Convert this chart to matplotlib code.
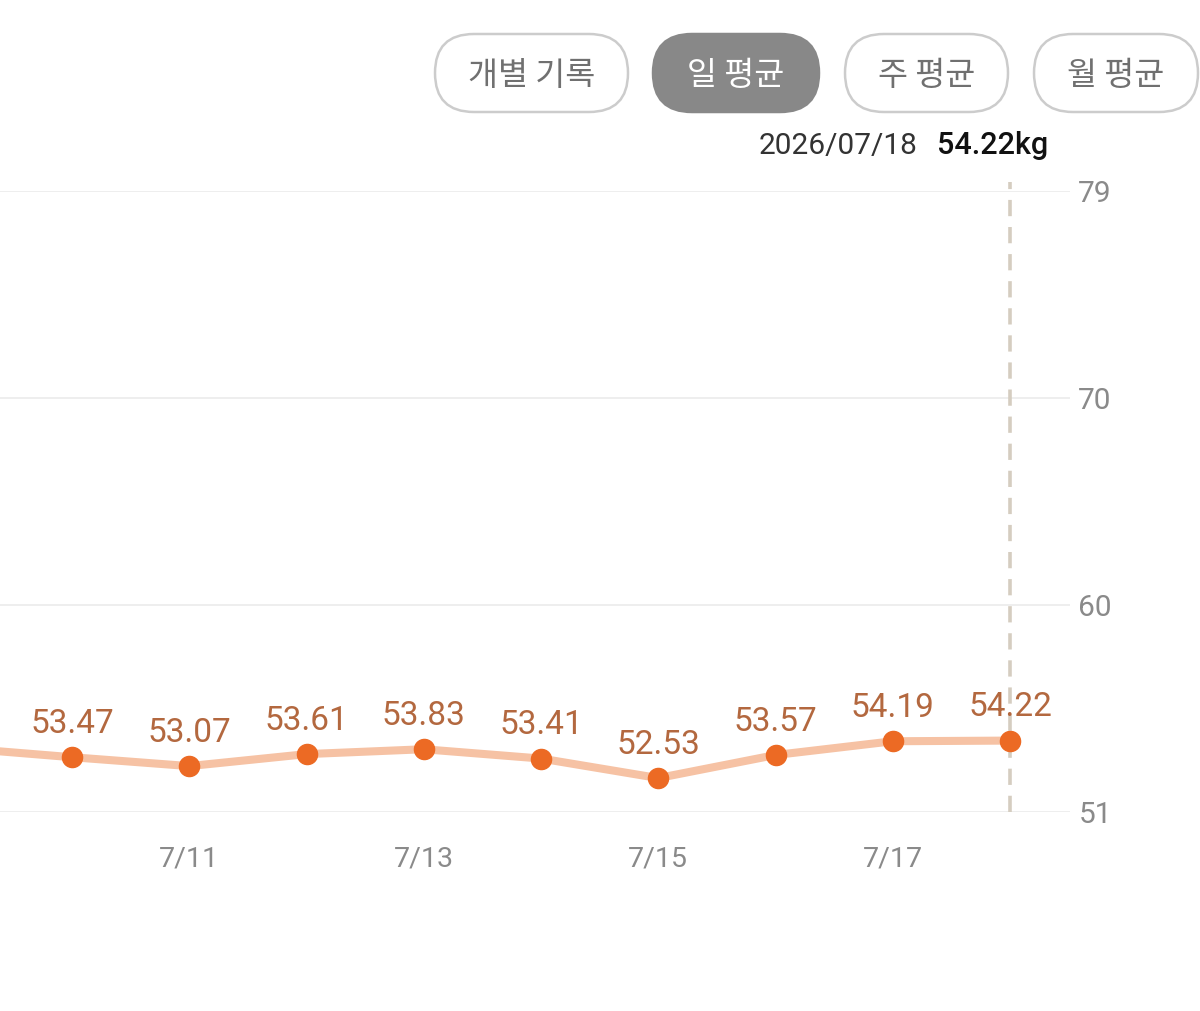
import matplotlib
matplotlib.use("Agg")
import matplotlib.pyplot as plt
from matplotlib.patches import FancyBboxPatch
import numpy as np

plt.rcParams['font.family'] = ['Roboto', 'Noto Sans CJK KR', 'DejaVu Sans']

# ---- data ----
days = [9, 10, 11, 12, 13, 14, 15, 16, 17, 18]
weights = [53.90, 53.47, 53.07, 53.61, 53.83, 53.41, 52.53, 53.57, 54.19, 54.22]
xtick_days = [11, 13, 15, 17]
xtick_labels = ['7/11', '7/13', '7/15', '7/17']
y_min, y_max = 51, 79
ytick_labels = ['51', '60', '70', '79']
buttons = ['개별 기록', '일 평균', '주 평균', '월 평균']
selected_button = '일 평균'
header_date = '2026/07/18'
header_value = '54.22kg'

W, H = 1200, 1011
fig = plt.figure(figsize=(W / 100, H / 100), dpi=100)
fig.patch.set_facecolor('white')

# ---- chart axes ----
ax_left, ax_right, ax_top, ax_bottom = 0, 1070, 191, 812
ax = fig.add_axes([ax_left / W, 1 - ax_bottom / H, (ax_right - ax_left) / W, (ax_bottom - ax_top) / H])
ax.set_facecolor('none')
spacing = 117.25
ax.set_xlim(10 - 72 / spacing, 18 + (1070 - 1010) / spacing)
ax.set_ylim(y_min, y_max)

yticks = np.linspace(y_min, y_max, len(ytick_labels))
for yt in yticks:
    ax.axhline(yt, color='#ebebeb', lw=1.2, zorder=0)

ax.yaxis.tick_right()
ax.set_yticks(yticks)
ax.set_yticklabels(ytick_labels, fontsize=21.5, color='#8a8a8a')
ax.tick_params(axis='y', length=0, pad=6)
ax.set_xticks(xtick_days)
ax.set_xticklabels(xtick_labels, fontsize=20.5, color='#8a8a8a')
ax.tick_params(axis='x', length=0, pad=24)
for s in ax.spines.values():
    s.set_visible(False)

# selection dashed line
ax.axvline(days[-1], ymin=0, ymax=(812 - 182) / 621, color='#d5cdc0', lw=2.6,
           dashes=(4.5, 3), clip_on=False, zorder=1)

ax.plot(days, weights, color='#f6c2a4', lw=5.8, zorder=2, solid_capstyle='round')
ax.plot(days, weights, linestyle='none', marker='o', ms=14.5, color='#ec6a24', zorder=3)
for d, w in zip(days, weights):
    ax.annotate(f'{w:.2f}', (d, w), xytext=(0, 24), textcoords='offset points',
                ha='center', va='center', fontsize=24, color='#b3683f', zorder=4,
                annotation_clip=True)

# ---- overlay for header/buttons (pixel coords) ----
ov = fig.add_axes([0, 0, 1, 1])
ov.set_xlim(0, W)
ov.set_ylim(H, 0)
ov.axis('off')
ov.set_zorder(5)

btn_boxes = [(435, 628), (653, 819), (845, 1008), (1034, 1198)]
by0, by1 = 34, 112
for label, (x0, x1) in zip(buttons, btn_boxes):
    sel = label == selected_button
    r = (by1 - by0) / 2
    pill = FancyBboxPatch((x0, by0), x1 - x0, by1 - by0,
                          boxstyle=f'round,pad=0,rounding_size={r}',
                          facecolor='#888888' if sel else 'white',
                          edgecolor='#888888' if sel else '#cccccc', lw=1.8)
    ov.add_patch(pill)
    ov.text((x0 + x1) / 2, (by0 + by1) / 2 + 3, label, ha='center', va='center',
            fontsize=23.5, color='white' if sel else '#707070',
            family=['Noto Sans CJK KR', 'DejaVu Sans'])

ov.text(918, 146, header_date, ha='right', va='center', fontsize=21.5, color='#333333')
ov.text(937, 146, header_value, ha='left', va='center', fontsize=22, color='#111111',
        fontweight='medium')

fig.savefig('out.png', dpi=100, facecolor='white')
